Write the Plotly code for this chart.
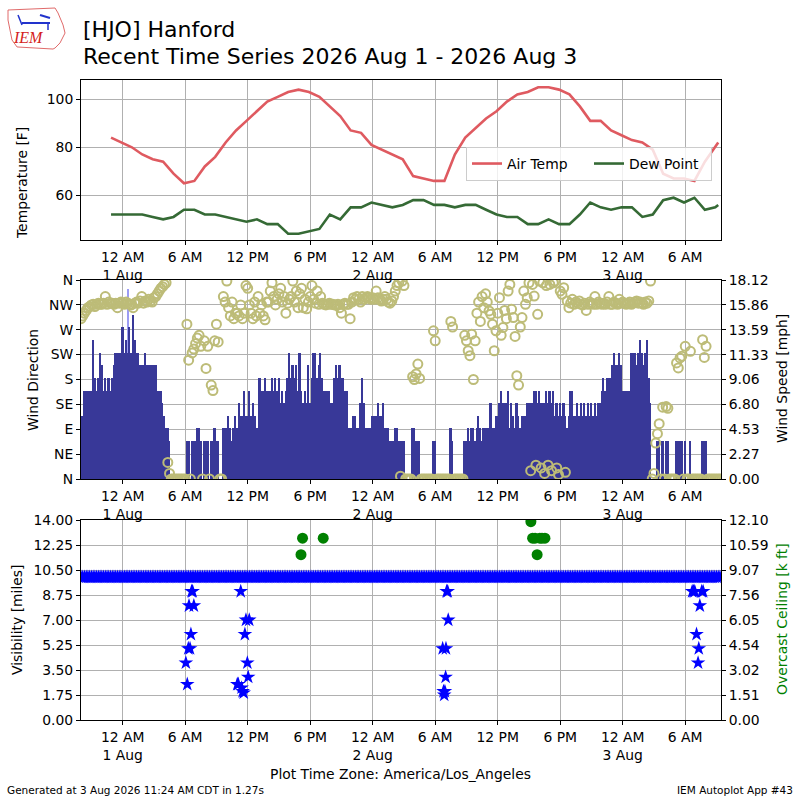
import pandas as pd
import plotly.graph_objects as go
from plotly.subplots import make_subplots

FONT = "DejaVu Sans"

# Hourly observations (:53 past the hour) starting 2026-07-31 22:53, America/Los_Angeles
temp_start = "2026-07-31 22:53"
air_temp_f = [
    84, 82,
    80, 77, 75, 74, 69, 65, 66, 72, 76, 82, 87, 91,
    95, 99, 101, 103, 104, 103, 101, 97, 93, 87, 86, 81,
    79, 77, 75, 68, 67, 66, 66, 77, 84, 88, 92, 95,
    99, 102, 103, 105, 105, 104, 102, 97, 91, 91, 87, 85,
    83, 82, 79, 69, 67, 67, 66, 74, 80,
]
dew_point_f = [
    52, 52,
    52, 52, 51, 50, 51, 54, 54, 52, 52, 51, 50, 49,
    50, 48, 48, 44, 44, 45, 46, 52, 50, 55, 55, 57,
    56, 55, 56, 58, 58, 56, 56, 55, 56, 56, 54, 52,
    51, 51, 48, 48, 50, 48, 48, 52, 57, 55, 54, 55,
    55, 51, 52, 58, 59, 57, 59, 54, 55,
]
# special observation at the end of the period
last_ob_time = "2026-08-03 09:10"
last_air_temp_f = 82
last_dew_point_f = 56

# 10 minute wind observations from 2026-07-31 20:00, one row per hour
wind_start = "2026-07-31 20:00"
wind_speed_kt = [
    [4, 5, 7, 7, 7, 7],  # 20:00 31 Jul
    [7, 11, 8, 7, 8, 10],
    [9, 7, 8, 7, 8, 7],
    [8, 9, 10, 10, 10, 10],
    [12, 10, 11, 10, 12, 10],  # 00:00 1 Aug
    [13, 11, 10, 10, 9, 9],
    [9, 10, 9, 9, 9, 9],
    [9, 9, 7, 7, 7, 6],
    [5, 4, 4, 3, 0, 0],
    [0, 0, 0, 0, 0, 0],
    [0, 3, 3, 0, 3, 3],  # 06:00
    [3, 4, 4, 3, 0, 3],
    [3, 3, 0, 3, 3, 4],
    [3, 3, 0, 0, 4, 4],
    [4, 5, 4, 3, 4, 5],
    [4, 6, 5, 5, 7, 5],
    [5, 7, 5, 6, 5, 4],  # 12:00
    [4, 8, 7, 7, 8, 7],
    [7, 7, 8, 7, 8, 7],
    [8, 6, 7, 6, 7, 8],
    [10, 8, 9, 8, 9, 7],
    [10, 7, 6, 7, 6, 9],
    [6, 8, 10, 10, 8, 9],  # 18:00
    [10, 8, 7, 7, 7, 7],
    [6, 6, 8, 9, 8, 9],
    [8, 8, 7, 7, 4, 4],
    [4, 5, 5, 4, 4, 6],
    [8, 6, 4, 4, 4, 4],
    [5, 5, 5, 6, 5, 5],  # 00:00 2 Aug
    [6, 4, 4, 4, 3, 3],
    [3, 4, 4, 3, 3, 3],
    [3, 0, 0, 0, 0, 4],
    [4, 3, 3, 3, 0, 0],
    [0, 0, 0, 0, 0, 3],
    [3, 0, 0, 0, 0, 0],  # 06:00
    [0, 0, 0, 4, 3, 0],
    [0, 0, 0, 0, 0, 3],
    [3, 4, 3, 4, 4, 3],
    [4, 5, 4, 3, 4, 4],
    [4, 4, 6, 4, 4, 5],
    [5, 6, 7, 6, 6, 6],  # 12:00
    [7, 4, 6, 5, 4, 6],
    [5, 4, 5, 5, 5, 6],
    [6, 6, 6, 7, 7, 6],
    [7, 6, 6, 6, 7, 6],
    [7, 6, 7, 5, 6, 5],
    [6, 5, 6, 5, 4, 5],  # 18:00
    [7, 7, 5, 5, 6, 5],
    [6, 5, 6, 5, 6, 5],
    [6, 5, 6, 5, 6, 6],
    [7, 8, 7, 8, 8, 8],
    [9, 10, 9, 9, 10, 9],
    [7, 7, 7, 7, 7, 10],  # 00:00 3 Aug
    [10, 10, 9, 10, 11, 10],
    [9, 10, 11, 8, 6, 0],
    [0, 0, 3, 3, 0, 3],
    [0, 3, 3, 0, 0, 0],
    [0, 3, 3, 3, 3, 0],
    [3, 0, 0, 3, 0, 0],  # 06:00
    [0, 0, 0, 0, 3, 3],
    [3, 0, 0, 0, 0, 0],
    [0, 0, 0],
]
wind_dir_deg = [
    [290, 295, 300, 305, 310, 312],  # 20:00 31 Jul
    [315, 316, 312, 316, 318, 316],
    [316, 318, 330, 316, 320, 318],
    [318, 316, 318, 310, 318, 320],
    [318, 316, 320, 318, 316, 315],  # 00:00 1 Aug
    [310, 318, 320, 318, 322, 330],
    [318, 322, 320, 325, 322, 320],
    [328, 330, 335, 340, 345, 348],
    [352, 355, 30, 10, 0, 0],
    [0, 0, 0, 0, 0, 0],
    [0, 280, 215, 0, 228, 235],  # 06:00
    [245, 255, 260, 240, 0, 250],
    [200, 240, 0, 170, 160, 250],
    [280, 248, 0, 0, 330, 320],
    [358, 310, 295, 320, 290, 300],
    [300, 295, 315, 290, 300, 350],
    [345, 315, 300, 290, 320, 295],  # 12:00
    [330, 300, 315, 295, 288, 320],
    [320, 340, 355, 330, 315, 325],
    [335, 345, 320, 330, 300, 318],
    [325, 330, 358, 320, 340, 310],
    [335, 345, 310, 325, 308, 320],
    [330, 350, 325, 318, 340, 316],  # 18:00
    [330, 318, 316, 315, 316, 318],
    [316, 316, 315, 315, 316, 310],
    [300, 316, 318, 316, 316, 290],
    [320, 328, 325, 330, 325, 320],
    [330, 325, 328, 330, 328, 325],
    [328, 325, 340, 328, 325, 322],  # 00:00 2 Aug
    [325, 330, 325, 320, 318, 322],
    [330, 340, 350, 355, 5, 358],
    [350, 0, 0, 0, 0, 185],
    [180, 190, 208, 182, 0, 0],
    [0, 0, 0, 0, 0, 268],
    [250, 0, 0, 0, 0, 0],  # 06:00
    [0, 0, 0, 285, 275, 0],
    [0, 0, 0, 0, 0, 260],
    [250, 232, 223, 262, 180, 250],
    [300, 320, 285, 330, 310, 335],
    [320, 304, 298, 280, 232, 268],
    [300, 328, 260, 274, 305, 290],  # 12:00
    [340, 352, 307, 292, 258, 187],
    [170, 275, 292, 340, 316, 328],
    [355, 15, 352, 331, 25, 298],
    [358, 20, 355, 10, 350, 25],
    [352, 15, 355, 358, 20, 8],
    [340, 334, 346, 12, 322, 310],  # 18:00
    [318, 325, 316, 320, 318, 322],
    [316, 315, 318, 305, 316, 320],
    [318, 316, 330, 316, 320, 318],
    [316, 318, 316, 320, 330, 316],
    [316, 320, 318, 316, 325, 318],
    [320, 318, 316, 318, 320, 316],  # 00:00 3 Aug
    [318, 320, 322, 318, 320, 318],
    [316, 320, 318, 322, 358, 0],
    [10, 65, 82, 100, 0, 130],
    [0, 131, 128, 0, 0, 0],
    [0, 210, 201, 219, 222, 0],
    [240, 0, 0, 231, 0, 0],  # 06:00
    [0, 0, 0, 0, 252, 220],
    [240, 0, 0, 0, 0, 0],
    [0, 0, 0],
]
# the one gust report in the period
gust_times = ["2026-08-01 00:30"]
gust_kt = [15]

# visibility on the same 10 minute clock, four hours per row
visibility_mi = [
    [10, 10, 10, 10, 10, 10, 10, 10, 10, 10, 10, 10, 10, 10, 10, 10, 10, 10, 10, 10, 10, 10, 10, 10],
    [10, 10, 10, 10, 10, 10, 10, 10, 10, 10, 10, 10, 10, 10, 10, 10, 10, 10, 10, 10, 10, 10, 10, 10],
    [10, 10, 10, 10, 10, 10, 10, 10, 10, 10, 10, 10, 10, 10, 10, 10, 10, 10, 10, 10, 10, 10, 10, 10],
    [10, 10, 10, 10, 10, 10, 10, 10, 10, 10, 10, 10, 10, 10, 10, 10, 10, 10, 10, 10, 10, 10, 10, 10],
    [10, 10, 10, 10, 10, 10, 10, 10, 10, 10, 10, 10, 10, 10, 10, 10, 10, 10, 10, 10, 10, 10, 10, 10],
    [10, 10, 10, 10, 10, 10, 10, 10, 10, 10, 10, 10, 10, 10, 10, 10, 10, 10, 10, 10, 10, 10, 10, 10],
    [10, 10, 10, 10, 10, 10, 10, 10, 10, 10, 10, 10, 10, 10, 10, 10, 10, 10, 10, 10, 10, 10, 10, 10],
    [10, 10, 10, 10, 10, 10, 10, 10, 10, 10, 10, 10, 10, 10, 10, 10, 10, 10, 10, 10, 10, 10, 10, 10],
    [10, 10, 10, 10, 10, 10, 10, 10, 10, 10, 10, 10, 10, 10, 10, 10, 10, 10, 10, 10, 10, 10, 10, 10],
    [10, 10, 10, 10, 10, 10, 10, 10, 10, 10, 10, 10, 10, 10, 10, 10, 10, 10, 10, 10, 10, 10, 10, 10],
    [10, 10, 10, 10, 10, 10, 10, 10, 10, 10, 10, 10, 10, 10, 10, 10, 10, 10, 10, 10, 10, 10, 10, 10],
    [10, 10, 10, 10, 10, 10, 10, 10, 10, 10, 10, 10, 10, 10, 10, 10, 10, 10, 10, 10, 10, 10, 10, 10],
    [10, 10, 10, 10, 10, 10, 10, 10, 10, 10, 10, 10, 10, 10, 10, 10, 10, 10, 10, 10, 10, 10, 10, 10],
    [10, 10, 10, 10, 10, 10, 10, 10, 10, 10, 10, 10, 10, 10, 10, 10, 10, 10, 10, 10, 10, 10, 10, 10],
    [10, 10, 10, 10, 10, 10, 10, 10, 10, 10, 10, 10, 10, 10, 10, 10, 10, 10, 10, 10, 10, 10, 10, 10],
    [10, 10, 10, 10, 10, 10, 10, 10, 10],
]
# extra one-minute visibility reports during the morning/noon dips
vis_dip_times = [
    "2026-08-01 06:04", "2026-08-01 06:12", "2026-08-01 06:18", "2026-08-01 06:22",
    "2026-08-01 06:28", "2026-08-01 06:33", "2026-08-01 06:37", "2026-08-01 06:43",
    "2026-08-01 06:50",
    "2026-08-01 11:00", "2026-08-01 11:06", "2026-08-01 11:20", "2026-08-01 11:25",
    "2026-08-01 11:31", "2026-08-01 11:37", "2026-08-01 11:44", "2026-08-01 11:50",
    "2026-08-01 11:58", "2026-08-01 12:03", "2026-08-01 12:09",
    "2026-08-02 06:43", "2026-08-02 06:48", "2026-08-02 06:52", "2026-08-02 06:56",
    "2026-08-02 07:00", "2026-08-02 07:02", "2026-08-02 07:06", "2026-08-02 07:12",
    "2026-08-02 07:15",
    "2026-08-03 06:40", "2026-08-03 06:48", "2026-08-03 06:55", "2026-08-03 07:05",
    "2026-08-03 07:14", "2026-08-03 07:18", "2026-08-03 07:24", "2026-08-03 07:35",
    "2026-08-03 07:43",
]
vis_dip_mi = [
    4.0, 2.5, 5.0, 8.0, 5.0, 6.0, 9.0, 9.0, 8.0,
    2.5, 2.5, 9.0, 2.25, 2.0, 1.9, 6.0, 7.0, 4.0, 3.0, 7.0,
    5.0, 2.0, 1.75, 2.0, 3.0, 5.0, 9.0, 9.0, 7.0,
    9.0, 9.0, 9.0, 6.0, 4.0, 5.0, 8.0, 9.0, 9.0,
]
ceiling_times = [
    "2026-08-01 17:07", "2026-08-01 17:16", "2026-08-01 19:15",
    "2026-08-02 15:11", "2026-08-02 15:21", "2026-08-02 15:35", "2026-08-02 15:47",
    "2026-08-02 16:03", "2026-08-02 16:15", "2026-08-02 16:32",
]
ceiling_kft = [10.0, 11.0, 11.0, 12.0, 11.0, 11.0, 10.0, 11.0, 11.0, 11.0]

# axis ticks
tick_times = [
    "2026-08-01 00:00", "2026-08-01 06:00", "2026-08-01 12:00", "2026-08-01 18:00",
    "2026-08-02 00:00", "2026-08-02 06:00", "2026-08-02 12:00", "2026-08-02 18:00",
    "2026-08-03 00:00", "2026-08-03 06:00",
]
tick_labels = [
    "12 AM<br>1 Aug", "6 AM", "12 PM", "6 PM",
    "12 AM<br>2 Aug", "6 AM", "12 PM", "6 PM",
    "12 AM<br>3 Aug", "6 AM",
]
dir_labels = ["N", "NE", "E", "SE", "S", "SW", "W", "NW", "N"]
speed_labels = ["0.00", "2.27", "4.53", "6.80", "9.06", "11.33", "13.59", "15.86", "18.12"]
vis_labels = ["0.00", "1.75", "3.50", "5.25", "7.00", "8.75", "10.50", "12.25", "14.00"]
ceiling_labels = ["0.00", "1.51", "3.02", "4.54", "6.05", "7.56", "9.07", "10.59", "12.10"]

# ---------------------------------------------------------------------------
temp_times = list(pd.date_range(temp_start, periods=len(air_temp_f), freq="h"))
temp_times.append(pd.Timestamp(last_ob_time))
air_all = air_temp_f + [last_air_temp_f]
dew_all = dew_point_f + [last_dew_point_f]

KT_TO_MPH = 1.15078
speed_kt = [v for row in wind_speed_kt for v in row]
wind_dir = [v for row in wind_dir_deg for v in row]
vis_mi = [v for row in visibility_mi for v in row]
wind_times = pd.date_range(wind_start, periods=len(speed_kt), freq="10min")
vis_times = pd.date_range(wind_start, periods=len(vis_mi), freq="10min")
speed_mph = [k * KT_TO_MPH for k in speed_kt]
gust_mph = [k * KT_TO_MPH for k in gust_kt]

SPEED_MAX = 18.12
VIS_MAX = 14.0
CEIL_MAX = 12.10


def px(x):
    return x / 800


def py(y):
    return 1 - y / 800


x_dom = [px(81), px(721)]
x_range = ["2026-07-31 20:00", "2026-08-03 09:26"]

fig = make_subplots(
    rows=3, cols=1,
    specs=[[{}], [{"secondary_y": True}], [{"secondary_y": True}]],
)

# temperature panel
fig.add_trace(go.Scatter(x=temp_times, y=air_all, mode="lines", name="Air Temp",
                         line=dict(color="#df5a60", width=2.6)), row=1, col=1)
fig.add_trace(go.Scatter(x=temp_times, y=dew_all, mode="lines", name="Dew Point",
                         line=dict(color="#356a35", width=2.6)), row=1, col=1)

# wind panel: gust (behind), speed bars (right axis), direction circles on top (left axis)
fig.add_trace(go.Bar(x=gust_times, y=gust_mph, width=3 * 60 * 1000,
                     marker=dict(color="#9c9cf4", line=dict(width=0)),
                     showlegend=False), row=2, col=1, secondary_y=False)
fig.add_trace(go.Bar(x=wind_times, y=speed_mph, width=10 * 60 * 1000,
                     marker=dict(color="#383898", line=dict(width=0)),
                     showlegend=False), row=2, col=1, secondary_y=False)
fig.add_trace(go.Scatter(x=wind_times, y=wind_dir, mode="markers", showlegend=False,
                         marker=dict(symbol="circle-open", size=9, color="#bdbc78",
                                     line=dict(width=2))),
              row=2, col=1, secondary_y=True)

# visibility / ceiling panel
fig.add_trace(go.Scatter(x=vis_times, y=vis_mi, mode="markers", showlegend=False,
                         marker=dict(symbol="star", size=11, color="#0000ff")),
              row=3, col=1, secondary_y=False)
fig.add_trace(go.Scatter(x=vis_dip_times, y=vis_dip_mi, mode="markers", showlegend=False,
                         marker=dict(symbol="star", size=11, color="#0000ff")),
              row=3, col=1, secondary_y=False)
fig.add_trace(go.Scatter(x=ceiling_times, y=ceiling_kft, mode="markers", showlegend=False,
                         marker=dict(symbol="circle", size=11, color="#008000")),
              row=3, col=1, secondary_y=True)

axis_style = dict(showline=True, linecolor="black", linewidth=1, mirror=True,
                  ticks="outside", ticklen=4, tickcolor="black", zeroline=False,
                  gridcolor="#b0b0b0", gridwidth=1, automargin=False,
                  tickfont=dict(family=FONT, size=13.9, color="black"))

for r in (1, 2, 3):
    fig.update_xaxes(type="date", range=x_range, domain=x_dom, tickvals=tick_times,
                     ticktext=tick_labels, showgrid=True, row=r, col=1, **axis_style)

fig.update_layout(
    barmode="overlay",
    yaxis=dict(domain=[py(240), py(80)], range=[41.4, 108], tickvals=[60, 80, 100],
               showgrid=True, **axis_style),
    yaxis2=dict(domain=[py(479), py(280)], side="right", range=[0, SPEED_MAX],
                tickvals=[SPEED_MAX * i / 8 for i in range(9)], ticktext=speed_labels,
                showgrid=False, **axis_style),
    yaxis3=dict(side="left", overlaying="y2", anchor="x2", range=[0, 360],
                tickvals=[45 * i for i in range(9)], ticktext=dir_labels,
                showgrid=True, **axis_style),
    yaxis4=dict(domain=[py(720), py(520)], range=[0, VIS_MAX],
                tickvals=[VIS_MAX * i / 8 for i in range(9)], ticktext=vis_labels,
                showgrid=True, **axis_style),
    yaxis5=dict(side="right", overlaying="y4", anchor="x3", range=[0, CEIL_MAX],
                tickvals=[CEIL_MAX * i / 8 for i in range(9)], ticktext=ceiling_labels,
                showgrid=False, **axis_style),
)

# small IEM logo: state outline and a station icon
outline_px = [(8, 10), (55, 8), (58, 13), (63, 25), (65, 33), (60, 43), (55, 48),
              (53, 49), (17, 47), (12, 40), (10, 30), (8, 20)]
outline_path = "M " + " L ".join(f"{px(x):.4f},{py(y):.4f}" for x, y in outline_px) + " Z"
shapes = [
    dict(type="path", path=outline_path, xref="paper", yref="paper",
         line=dict(color="#e06a6a", width=1)),
    dict(type="line", xref="paper", yref="paper", x0=px(22), x1=px(50), y0=py(23), y1=py(23),
         line=dict(color="#2233cc", width=2)),
    dict(type="line", xref="paper", yref="paper", x0=px(40), x1=px(50), y0=py(15), y1=py(18),
         line=dict(color="#2233cc", width=2)),
    dict(type="line", xref="paper", yref="paper", x0=px(18), x1=px(22), y0=py(15), y1=py(25),
         line=dict(color="#2233cc", width=1.5)),
    dict(type="line", xref="paper", yref="paper", x0=px(48), x1=px(48), y0=py(23), y1=py(30),
         line=dict(color="#2233cc", width=1.5)),
]

annotations = [
    dict(text="[HJO] Hanford", x=px(81), y=py(30), xanchor="left", yanchor="middle",
         font=dict(size=22)),
    dict(text="Recent Time Series 2026 Aug 1 - 2026 Aug 3", x=px(81), y=py(56),
         xanchor="left", yanchor="middle", font=dict(size=22)),
    dict(text="<i>IEM</i>", x=px(29), y=py(38), xanchor="center", yanchor="middle",
         font=dict(family="Liberation Serif", size=16, color="#d42020")),
    dict(text="Temperature [F]", x=px(22), y=py(183), textangle=-90,
         xanchor="center", yanchor="middle"),
    dict(text="Wind Direction", x=px(33), y=py(380), textangle=-90,
         xanchor="center", yanchor="middle"),
    dict(text="Wind Speed [mph]", x=px(782), y=py(379), textangle=-90,
         xanchor="center", yanchor="middle"),
    dict(text="Visibility [miles]", x=px(17), y=py(620), textangle=-90,
         xanchor="center", yanchor="middle"),
    dict(text="Overcast Ceiling [k ft]", x=px(782), y=py(619), textangle=-90,
         xanchor="center", yanchor="middle", font=dict(color="#008000")),
    dict(text="Plot Time Zone: America/Los_Angeles", x=px(400), y=py(774),
         xanchor="center", yanchor="middle"),
    dict(text="Generated at 3 Aug 2026 11:24 AM CDT in 1.27s", x=px(5), y=py(790),
         xanchor="left", yanchor="middle", font=dict(size=10.5)),
    dict(text="IEM Autoplot App #43", x=px(795), y=py(790),
         xanchor="right", yanchor="middle", font=dict(size=10.5)),
]
for a in annotations:
    a.update(xref="paper", yref="paper", showarrow=False)
    f = dict(family=FONT, size=13.9, color="black")
    f.update(a.get("font", {}))
    a["font"] = f

fig.update_layout(
    width=800, height=800,
    margin=dict(l=0, r=0, t=0, b=0, autoexpand=False),
    paper_bgcolor="white", plot_bgcolor="white",
    font=dict(family=FONT, size=13.9, color="black"),
    annotations=annotations,
    shapes=shapes,
    bargap=0,
    legend=dict(orientation="h", x=px(466), y=py(147), xanchor="left", yanchor="top",
                bgcolor="rgba(255,255,255,0.8)", bordercolor="#cccccc", borderwidth=1,
                entrywidth=77, font=dict(family=FONT, size=13.9)),
)

# drop the browser's default page margin so the 800x800 figure fills the window
fig.write_html("out.html", config={"displayModeBar": False},
               post_script="document.body.style.margin = '0';")
